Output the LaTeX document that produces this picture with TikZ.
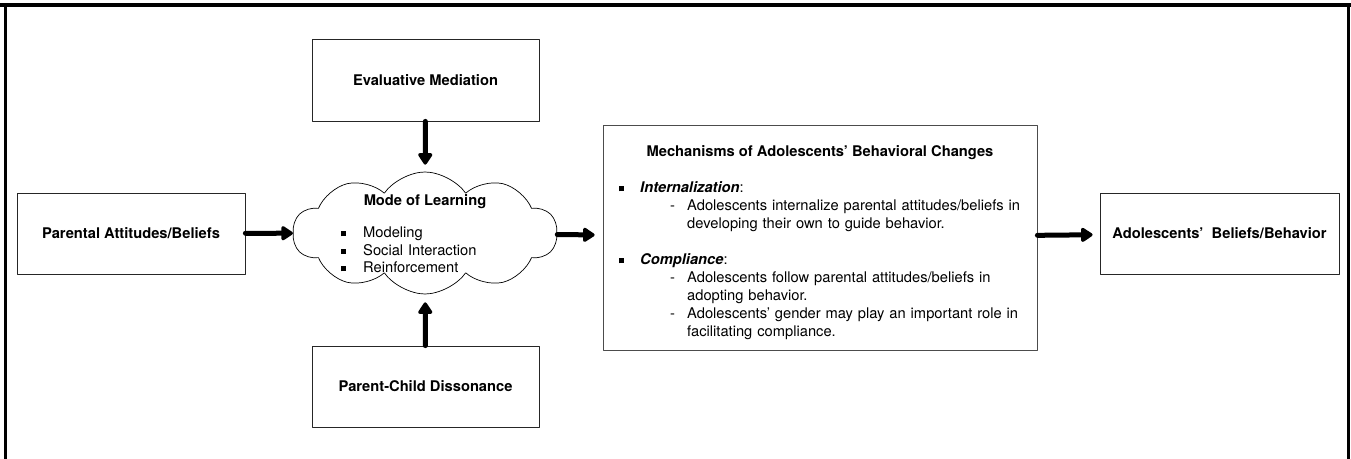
\documentclass[tikz,border=0pt]{standalone}
\usepackage{fontspec}
\setmainfont{TeX Gyre Heros}
\usetikzlibrary{positioning,arrows.meta,shapes.symbols}

\newcommand{\sqbul}{\rule[1.6bp]{5bp}{5bp}}

\begin{document}
\begin{tikzpicture}[>={Triangle[width=16bp,length=13bp,round]},line join=bevel,
  font=\fontsize{14.7bp}{18bp}\selectfont,
  box/.style={draw=black!85,line width=0.8bp,inner sep=0pt,font=\fontsize{14.7bp}{18bp}\selectfont\bfseries},
  puff/.style={cloud,cloud puffs=10,cloud puff arc=110,cloud ignores aspect,draw,line width=0.7bp,minimum width=264bp,minimum height=122bp,inner sep=0pt},
  flow/.style={black,->,line width=5bp,line cap=round},
  list/.style={anchor=base west,inner sep=0pt,align=left,text width=#1},]
%%
\useasboundingbox (0bp,0bp) rectangle (1351bp,459bp);
\draw [line width=3.5bp] (0bp,454bp) -- (1351bp,454bp);
\draw [line width=3bp] (5bp,-5bp) -- (5bp,454bp);
\draw [line width=3bp] (1348bp,-5bp) -- (1348bp,454bp);
%
\node (em) at (425.5bp,379bp) [box,minimum width=227bp,minimum height=82bp] {Evaluative Mediation};
  \node (pab) at (131bp,225.5bp) [box,minimum width=228bp,minimum height=81bp] {Parental Attitudes/Beliefs};
  \node (learn) at (425bp,226bp) [puff] {};
  \node (pcd) at (425.5bp,72.5bp) [box,minimum width=227bp,minimum height=81bp] {Parent-Child Dissonance};
  \node (mech) at (820bp,221.5bp) [box,draw=black!70,minimum width=434bp,minimum height=225bp] {};
  \node (abb) at (1219.5bp,225.5bp) [box,minimum width=239bp,minimum height=81bp] {Adolescents’~~Beliefs/Behavior};
%
  \node (learntitle) at (425bp,253bp) [anchor=base,inner sep=0pt,font=\fontsize{14.7bp}{18bp}\selectfont\bfseries] {Mode of Learning};
  \node (learnlist) at (340.5bp,221bp) [list=150bp,font=\fontsize{14.7bp}{17.5bp}\selectfont] {\makebox[22.5bp][l]{\sqbul}Modeling\\
    \makebox[22.5bp][l]{\sqbul}Social Interaction\\
    \makebox[22.5bp][l]{\sqbul}Reinforcement};
  \node (mechtitle) at (820bp,302bp) [anchor=base,inner sep=0pt,font=\fontsize{14.7bp}{18bp}\selectfont\bfseries] {Mechanisms of Adolescents’ Behavioral Changes};
  \node (mechlist) at (619bp,266bp) [list=410bp] {\makebox[21bp][l]{\sqbul}\textbf{\textit{Internalization}}:\\
    \hspace*{51bp}\makebox[17bp][l]{-}Adolescents internalize parental attitudes/beliefs in\\
    \hspace*{68bp}developing their own to guide behavior.\\[18bp]
    \makebox[21bp][l]{\sqbul}\textbf{\textit{Compliance}}:\\
    \hspace*{51bp}\makebox[17bp][l]{-}Adolescents follow parental attitudes/beliefs in\\
    \hspace*{68bp}adopting behavior.\\
    \hspace*{51bp}\makebox[17bp][l]{-}Adolescents’ gender may play an important role in\\
    \hspace*{68bp}facilitating compliance.};
%
  \draw [flow] (pab) -- (learn);
  \draw [flow,shorten >=7bp] (em) -- (learn);
  \draw [flow,shorten >=8bp] (pcd) -- (learn);
  \draw [flow,shorten >=8bp] (learn) -- (mech);
  \draw [flow,shorten >=7bp] (mech) -- (abb);
%
\end{tikzpicture}
\end{document}
